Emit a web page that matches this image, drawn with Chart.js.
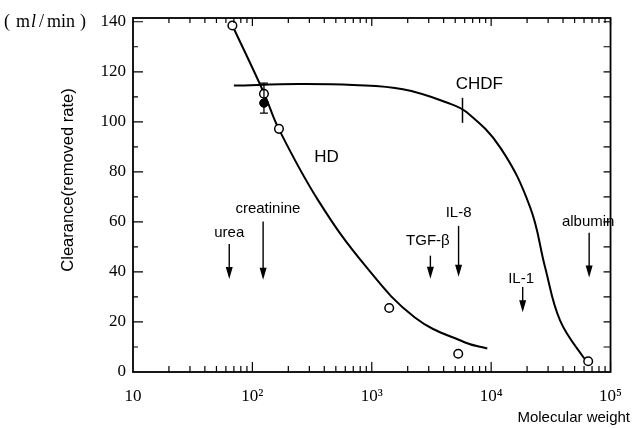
<!DOCTYPE html>
<html>
<head>
<meta charset="utf-8">
<script src="https://cdn.jsdelivr.net/npm/chart.js@4/dist/chart.umd.min.js"></script>
<style>
  html, body { margin: 0; padding: 0; background: #fff; }
</style>
</head>
<body>
<canvas id="myChart" width="636" height="428"></canvas>
<script>
// données (poids moléculaire / clearance en ml/min)
const hdPointMW = [68, 125, 167, 1400, 5300, 65000];
const hdPointCl = [138.5, 111.2, 97.2, 25.6, 7.3, 4.3];

const hdCurveMW = [68, 125, 167, 358, 881, 2296, 5975, 9282];
const hdCurveCl = [138.5, 111.5, 97, 68.4, 42.5, 21.8, 11.9, 9.4];

const chdfCurveMW = [70, 244, 700, 1824, 4315, 6328, 11970, 21260, 28330, 37750, 59070, 67000];
const chdfCurveCl = [114.5, 115.1, 114.7, 113, 107.6, 103.6, 89.6, 65.7, 41.8, 20.6, 6, 3.3];

// point CHDF (plein) + barre d'erreur
const chdfPointMW = [125];
const chdfPointCl = [107.5];
const chdfErrLow = [103.5];
const chdfErrHigh = [115.5];

// petit trait vertical sur la courbe CHDF
const chdfMarkMW = 5754;
const chdfMarkCl = [99.6, 109.6];

// flèches des solutés
const soluteNames = ['urea', 'creatinine', 'TGF-β', 'IL-8', 'IL-1', 'albumin'];
const soluteMW = [64, 123, 3097, 5335, 18370, 66200];
const soluteLabelMW = [64, 135, 2950, 5335, 17800, 65000];
const arrowTop = [51.2, 60.2, 46.5, 58.4, 34.0, 55.7];
const arrowBottom = [37.2, 36.9, 37.3, 38.1, 23.9, 37.8];
const labelCl = [55.7, 65.2, 52.5, 63.7, 37.3, 60.2];

// textes des courbes
const curveNames = ['HD', 'CHDF'];
const curveNameMW = [418, 7960];
const curveNameCl = [85.7, 114.8];

// graduations
const xScaleTicks = [10, 100, 1000, 10000, 100000];
const xTickLabels = ['10', '10²', '10³', '10⁴', '10⁵'];
const yScaleTicks = [0, 20, 40, 60, 80, 100, 120, 140];

const toXY = (xs, ys) => xs.map((v, i) => ({ x: v, y: ys[i] }));

const serif = '"Liberation Serif", "DejaVu Serif", serif';
const sans = '"Liberation Sans", Arial, sans-serif';

// plugin pour le cadre, les graduations internes, flèches et textes
const decorPlugin = {
  id: 'decor',
  afterDatasetsDraw(chart) {
    const { ctx, chartArea: a, scales: { x, y } } = chart;
    ctx.save();
    ctx.strokeStyle = '#000';
    ctx.fillStyle = '#000';

    // cadre
    ctx.lineWidth = 1.8;
    ctx.strokeRect(a.left, a.top, a.right - a.left, a.bottom - a.top);

    // graduations vers l'intérieur
    ctx.lineWidth = 1.2;
    ctx.beginPath();
    for (let v = 10; v <= 140; v += 10) {
      const py = y.getPixelForValue(v);
      const len = v % 20 == 0 ? 10 : 5;
      ctx.moveTo(a.left, py); ctx.lineTo(a.left + len, py);
      ctx.moveTo(a.right, py); ctx.lineTo(a.right - 7, py);
    }
    for (let e = 1; e < 5; e++) {
      for (let m = 2; m <= 10; m++) {
        const px = x.getPixelForValue(m * Math.pow(10, e));
        const lenB = m == 10 ? 10 : 6;
        const lenT = m == 10 ? 8 : 5;
        ctx.moveTo(px, a.bottom); ctx.lineTo(px, a.bottom - lenB);
        ctx.moveTo(px, a.top); ctx.lineTo(px, a.top + lenT);
      }
    }
    ctx.stroke();

    // barre d'erreur
    ctx.lineWidth = 1.3;
    for (let i = 0; i < chdfPointMW.length; i++) {
      const px = x.getPixelForValue(chdfPointMW[i]);
      const y1 = y.getPixelForValue(chdfErrHigh[i]);
      const y2 = y.getPixelForValue(chdfErrLow[i]);
      ctx.beginPath();
      ctx.moveTo(px, y1); ctx.lineTo(px, y2);
      ctx.moveTo(px - 4, y1); ctx.lineTo(px + 4, y1);
      ctx.moveTo(px - 4, y2); ctx.lineTo(px + 4, y2);
      ctx.stroke();
    }

    // trait CHDF
    ctx.lineWidth = 1.5;
    ctx.beginPath();
    const mx = x.getPixelForValue(chdfMarkMW);
    ctx.moveTo(mx, y.getPixelForValue(chdfMarkCl[0]));
    ctx.lineTo(mx, y.getPixelForValue(chdfMarkCl[1]));
    ctx.stroke();

    // flèches + noms
    ctx.font = '15px ' + sans;
    ctx.textAlign = 'center';
    ctx.textBaseline = 'middle';
    for (let i = 0; i < soluteNames.length; i++) {
      const px = x.getPixelForValue(soluteMW[i]);
      const yt = y.getPixelForValue(arrowTop[i]);
      const yb = y.getPixelForValue(arrowBottom[i]);
      ctx.lineWidth = 1.4;
      ctx.beginPath();
      ctx.moveTo(px, yt); ctx.lineTo(px, yb - 8);
      ctx.stroke();
      ctx.beginPath();
      ctx.moveTo(px, yb);
      ctx.lineTo(px - 3.5, yb - 12);
      ctx.lineTo(px + 3.5, yb - 12);
      ctx.closePath();
      ctx.fill();
      ctx.fillText(soluteNames[i], x.getPixelForValue(soluteLabelMW[i]), y.getPixelForValue(labelCl[i]));
    }

    ctx.font = '17px ' + sans;
    for (let i = 0; i < curveNames.length; i++) {
      ctx.fillText(curveNames[i], x.getPixelForValue(curveNameMW[i]), y.getPixelForValue(curveNameCl[i]));
    }

    // unité en haut à gauche
    const uy = y.getPixelForValue(140) + 1;
    ctx.textAlign = 'left';
    let cx = 4;
    const parts = [['(', '', 6], ['m', '', 1], ['l', 'italic ', 3], ['/', '', 3], ['min', '', 5], [')', '', 0]];
    for (const p of parts) {
      ctx.font = p[1] + '18px ' + serif;
      ctx.fillText(p[0], cx, uy);
      cx += ctx.measureText(p[0]).width + p[2];
    }

    // titre axe y
    ctx.save();
    ctx.font = '16.5px ' + sans;
    ctx.textAlign = 'center';
    ctx.translate(68, (a.top + a.bottom) / 2 - 15);
    ctx.rotate(-Math.PI / 2);
    ctx.fillText('Clearance(removed rate)', 0, 0);
    ctx.restore();

    // titre axe x
    ctx.font = '15px ' + sans;
    ctx.textAlign = 'right';
    ctx.fillText('Molecular weight', chart.width - 6, 418);

    ctx.restore();
  }
};

new Chart(document.getElementById('myChart'), {
  type: 'line',
  data: {
    datasets: [
      {
        label: 'HD mesures',
        data: toXY(hdPointMW, hdPointCl),
        showLine: false,
        pointRadius: 4.3,
        pointBorderWidth: 1.5,
        pointBorderColor: '#000',
        pointBackgroundColor: '#fff',
        order: 0
      },
      {
        label: 'CHDF mesure',
        data: toXY(chdfPointMW, chdfPointCl),
        showLine: false,
        pointRadius: 4.3,
        pointBorderWidth: 1,
        pointBorderColor: '#000',
        pointBackgroundColor: '#000',
        order: 0
      },
      {
        label: 'HD',
        data: toXY(hdCurveMW, hdCurveCl),
        borderColor: '#000',
        borderWidth: 2,
        pointRadius: 0,
        tension: 0.4,
        order: 1
      },
      {
        label: 'CHDF',
        data: toXY(chdfCurveMW, chdfCurveCl),
        borderColor: '#000',
        borderWidth: 2,
        pointRadius: 0,
        tension: 0.4,
        order: 1
      }
    ]
  },
  options: {
    responsive: false,
    animation: false,
    layout: { padding: { top: 18, right: 22, left: 0, bottom: 0 } },
    plugins: {
      legend: { display: false },
      tooltip: { enabled: false }
    },
    scales: {
      x: {
        type: 'logarithmic',
        min: 10,
        max: 100000,
        grid: { display: false, drawTicks: false },
        border: { display: false },
        afterBuildTicks: (scale) => { scale.ticks = xScaleTicks.map(v => ({ value: v, major: true })); },
        afterFit: (scale) => { scale.height = 56; },
        ticks: {
          autoSkip: false,
          maxRotation: 0,
          padding: 14,
          color: '#000',
          font: { family: serif, size: 17 },
          callback: (value, index) => xTickLabels[index]
        }
      },
      y: {
        min: 0,
        max: 141.5,
        grid: { display: false, drawTicks: false },
        border: { display: false },
        afterBuildTicks: (scale) => { scale.ticks = yScaleTicks.map(v => ({ value: v })); },
        afterFit: (scale) => { scale.width = 133; },
        ticks: {
          padding: 7,
          color: '#000',
          font: { family: serif, size: 17 }
        }
      }
    }
  },
  plugins: [decorPlugin]
});
</script>
</body>
</html>
